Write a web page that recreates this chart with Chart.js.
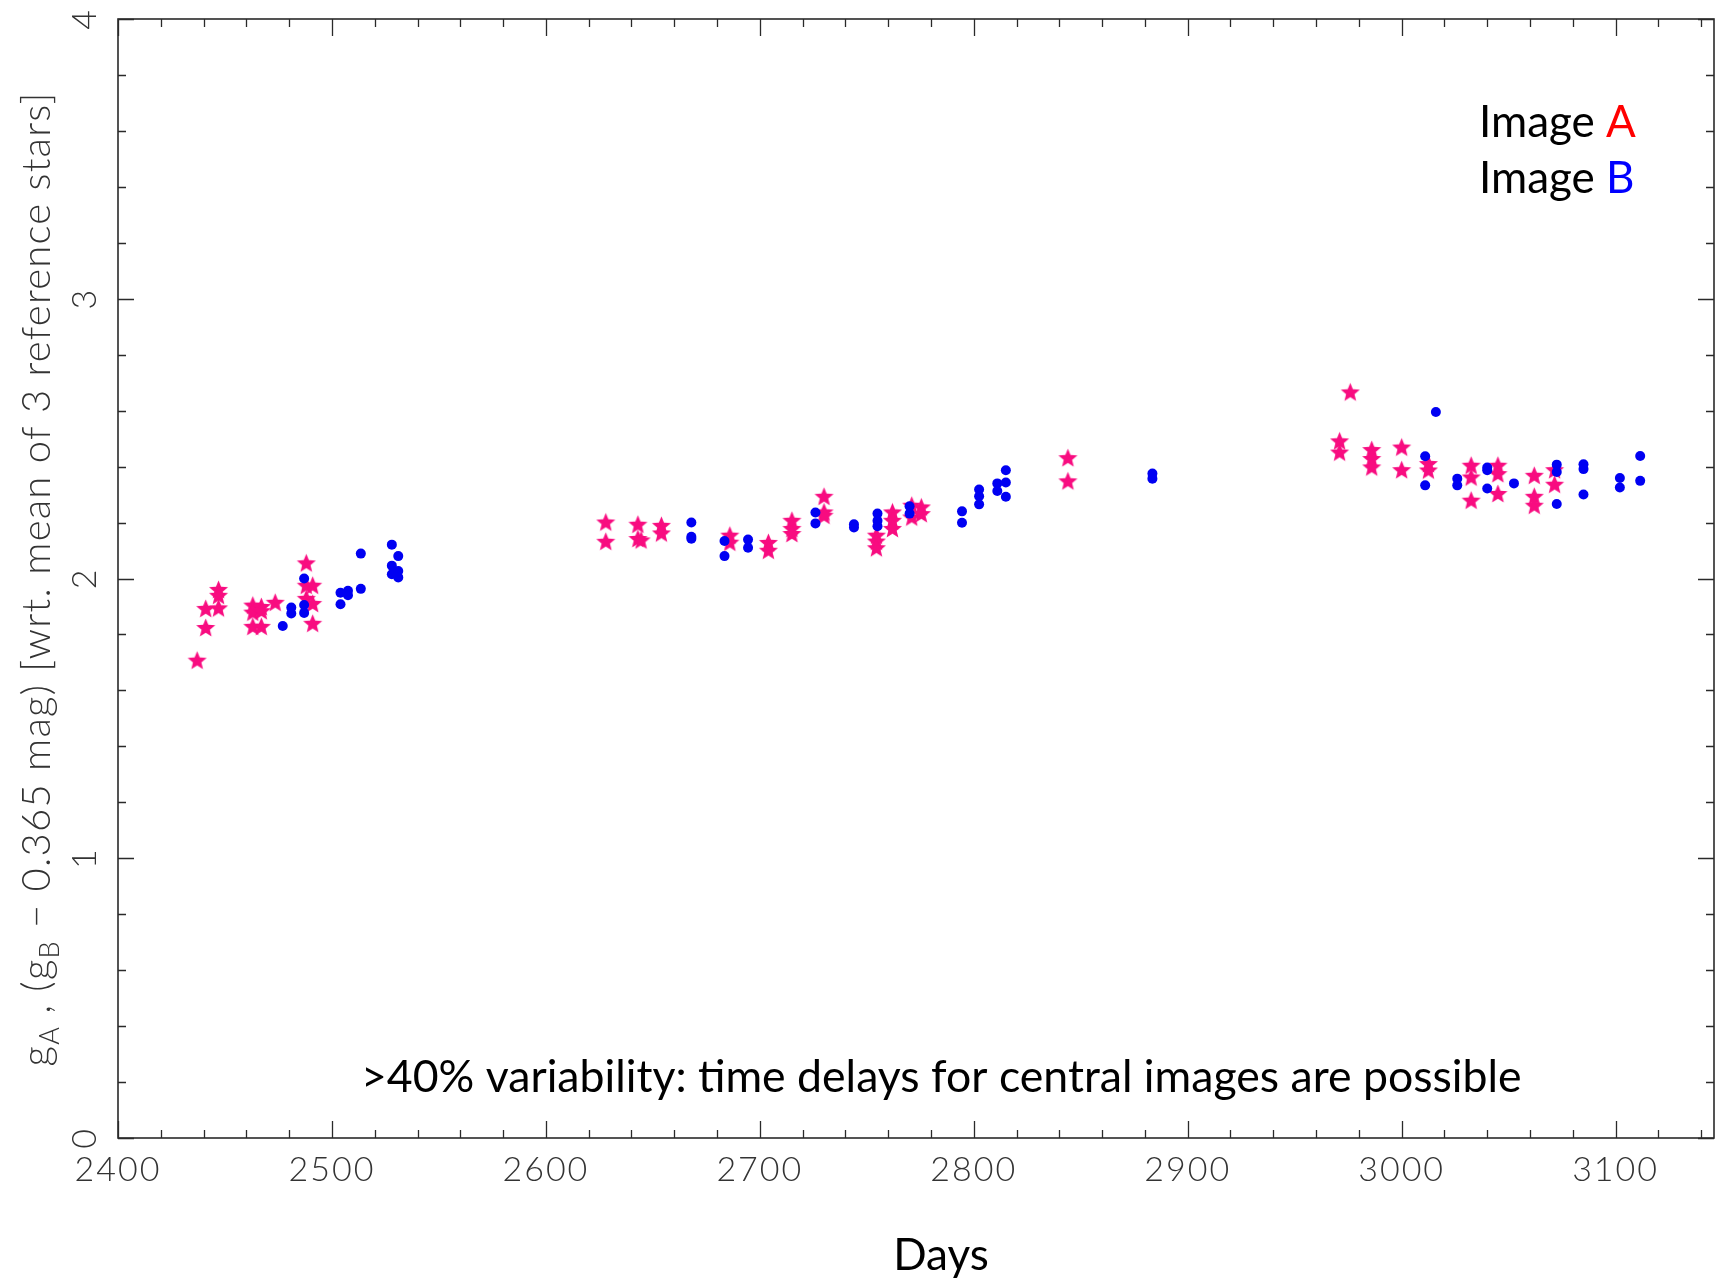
<!doctype html>
<html lang="en">
<head>
<meta charset="utf-8">
<title>Image A / Image B light curves</title>
<script src="https://cdn.jsdelivr.net/npm/chart.js@4.4.0/dist/chart.umd.min.js"></script>
<style>
  html, body { margin: 0; padding: 0; background: #fff; }
  #lc { display: block; }
</style>
</head>
<body>
<canvas id="lc" width="1716" height="1280"></canvas>
<script>
// Image A (pink stars): day, magnitude
let daysA = [2437, 2441, 2441, 2447, 2447, 2447,
  2463, 2463, 2467, 2467, 2473.5, 2463, 2467,
  2488, 2488, 2488, 2491, 2491, 2491,
  2628, 2628, 2643, 2643, 2644.5, 2654, 2654,
  2686, 2686, 2704, 2704, 2715, 2715, 2715,
  2730, 2730, 2730, 2754.5, 2754.5, 2754.5, 2762, 2762, 2762,
  2771, 2771, 2775.5, 2775.5, 2844, 2844,
  2976, 2971, 2971, 2986, 2986, 2986, 3000, 3000,
  3012.5, 3012.5, 3032.5, 3032.5, 3032.5, 3045, 3045, 3045,
  3062, 3062, 3062, 3071.5, 3071.5];
let magA = [1.708, 1.825, 1.893, 1.961, 1.940, 1.895,
  1.905, 1.880, 1.900, 1.885, 1.915, 1.829, 1.829,
  2.056, 1.976, 1.929, 1.976, 1.911, 1.840,
  2.202, 2.133, 2.194, 2.143, 2.138, 2.190, 2.163,
  2.155, 2.130, 2.129, 2.101, 2.208, 2.179, 2.161,
  2.294, 2.238, 2.226, 2.155, 2.134, 2.110, 2.238, 2.208, 2.179,
  2.262, 2.220, 2.256, 2.232, 2.432, 2.349,
  2.667, 2.492, 2.452, 2.461, 2.429, 2.399, 2.470, 2.389,
  2.411, 2.388, 2.405, 2.363, 2.280, 2.405, 2.375, 2.304,
  2.369, 2.294, 2.262, 2.389, 2.337];

// Image B (blue dots): day, magnitude
let daysB = [2477, 2481, 2481, 2487, 2487, 2487,
  2504, 2504, 2507.5, 2507.5, 2513.5, 2513.5,
  2528, 2528, 2528, 2531, 2531, 2531,
  2668, 2668, 2668, 2683.5, 2683.5, 2694.5, 2694.5,
  2726, 2726, 2744, 2744, 2755, 2755, 2755, 2770, 2770,
  2794.5, 2794.5, 2802.5, 2802.5, 2802.5, 2811, 2811, 2815, 2815, 2815,
  2883.5, 2883.5,
  3016, 3011, 3011, 3026, 3026, 3040, 3040, 3040, 3052.5,
  3072.5, 3072.5, 3072.5, 3085, 3085, 3085, 3102, 3102, 3111.5, 3111.5];
let magB = [1.830, 1.896, 1.875, 2.000, 1.905, 1.877,
  1.949, 1.908, 1.956, 1.940, 2.089, 1.963,
  2.121, 2.046, 2.015, 2.080, 2.027, 2.004,
  2.200, 2.149, 2.142, 2.134, 2.080, 2.139, 2.110,
  2.236, 2.197, 2.194, 2.182, 2.232, 2.206, 2.187, 2.258, 2.232,
  2.240, 2.199, 2.318, 2.294, 2.265, 2.340, 2.313, 2.387, 2.343, 2.292,
  2.375, 2.357,
  2.595, 2.437, 2.333, 2.357, 2.333, 2.397, 2.387, 2.322, 2.340,
  2.407, 2.381, 2.266, 2.408, 2.391, 2.300, 2.359, 2.325, 2.438, 2.349];

// axes
let xMajor = [2400, 2500, 2600, 2700, 2800, 2900, 3000, 3100];
let xLabels = ['2400', '2500', '2600', '2700', '2800', '2900', '3000', '3100'];
let yMajor = [0, 1, 2, 3, 4];
let yLabels = ['0', '1', '2', '3', '4'];
let xMinorStep = 20;
let yMinorStep = 0.2;

function pts(xs, ys) { return xs.map((d, i) => ({ x: d, y: ys[i] })); }

// filled five pointed star used as point image
function makeStar(size, color) {
  let c = document.createElement('canvas');
  c.width = c.height = size;
  let g = c.getContext('2d');
  let R = size / 2 - 0.5, r = R * 0.44;
  g.beginPath();
  for (let i = 0; i < 10; i++) {
    let a = -Math.PI / 2 + i * Math.PI / 5;
    let rr = i % 2 ? r : R;
    g.lineTo(size / 2 + rr * Math.cos(a), size / 2 + 0.9 + rr * Math.sin(a));
  }
  g.closePath();
  g.fillStyle = color;
  g.fill();
  return c;
}

const sans = 'Lato, "Open Sans", sans-serif';

const frame = {
  id: 'frame',
  afterDatasetsDraw(chart) {
    const { ctx, chartArea: a, scales: { x, y } } = chart;
    ctx.save();
    ctx.strokeStyle = '#2a2a2a';
    ctx.lineWidth = 1.6;
    ctx.strokeRect(a.left, a.top, a.right - a.left, a.bottom - a.top);

    // inward ticks on all four sides
    ctx.lineWidth = 1.3;
    ctx.beginPath();
    for (let i = 0; xMajor[0] + i * xMinorStep <= x.max; i++) {
      let v = xMajor[0] + i * xMinorStep;
      let px = Math.round(x.getPixelForValue(v)) + 0.5;
      let len = (v % 100 === 0) ? 17 : 8;
      ctx.moveTo(px, a.bottom); ctx.lineTo(px, a.bottom - len);
      ctx.moveTo(px, a.top); ctx.lineTo(px, a.top + len);
    }
    for (let i = 0; i * yMinorStep <= y.max + 1e-9; i++) {
      let py = Math.round(y.getPixelForValue(i * yMinorStep)) + 0.5;
      let len = (i % 5 === 0) ? 16 : 8;
      ctx.moveTo(a.left, py); ctx.lineTo(a.left + len, py);
      ctx.moveTo(a.right, py); ctx.lineTo(a.right - len, py);
    }
    ctx.stroke();

    // tick labels
    ctx.fillStyle = '#333';
    ctx.font = '300 34px ' + sans;
    ctx.letterSpacing = '2px';
    ctx.textAlign = 'center';
    ctx.textBaseline = 'alphabetic';
    xMajor.forEach((v, i) => ctx.fillText(xLabels[i], x.getPixelForValue(v), a.bottom + 43));
    yMajor.forEach((v, i) => {
      ctx.save();
      ctx.translate(a.left - 22, y.getPixelForValue(v));
      ctx.rotate(-Math.PI / 2);
      ctx.fillText(yLabels[i], 0, 0);
      ctx.restore();
    });
    ctx.restore();
  },
  afterDraw(chart) {
    const { ctx } = chart;
    ctx.save();
    ctx.fillStyle = '#333';

    // y axis title with subscripts, rotated
    let parts = [['g', 0], ['A', 1], [' , (', 0], ['g', 0], ['B', 1],
      [' \u2212 0.365 mag) [wrt. mean of 3 reference stars]', 0]];
    let mainFont = '300 40px ' + sans, subFont = '300 27px ' + sans;
    ctx.letterSpacing = '0px';
    let w = 0, n = 0;
    parts.forEach(p => { ctx.font = p[1] ? subFont : mainFont; w += ctx.measureText(p[0]).width; n += p[0].length; });
    let sp = (975 - w) / n;
    ctx.letterSpacing = sp + 'px';
    ctx.translate(50, 579);
    ctx.rotate(-Math.PI / 2);
    ctx.textAlign = 'left';
    let cx = -975 / 2;
    parts.forEach(p => {
      ctx.font = p[1] ? subFont : mainFont;
      ctx.fillText(p[0], cx, p[1] ? 9 : 0);
      cx += ctx.measureText(p[0]).width;
    });
    ctx.restore();

    ctx.save();
    ctx.textAlign = 'left';
    ctx.textBaseline = 'alphabetic';
    ctx.font = '44px ' + sans;
    [['A', '#ff0000', 137], ['B', '#0000ff', 193]].forEach(l => {
      ctx.fillStyle = '#000';
      ctx.fillText('Image ', 1479, l[2]);
      let iw = ctx.measureText('Image ').width;
      ctx.fillStyle = l[1];
      ctx.fillText(l[0], 1479 + iw, l[2]);
    });

    // annotation, fitted to the width it has in the figure
    let note = '>40% variability: time delays for central images are possible';
    ctx.font = '100px ' + sans;
    let size = 100 * 1160 / ctx.measureText(note).width;
    ctx.font = size.toFixed(1) + 'px ' + sans;
    ctx.fillStyle = '#000';
    ctx.fillText(note, 361, 1092);

    ctx.font = '44px ' + sans;
    ctx.textAlign = 'center';
    ctx.fillText('Days', 941, 1270);
    ctx.restore();
  }
};

new Chart(document.getElementById('lc'), {
  type: 'scatter',
  data: {
    datasets: [
      {
        label: 'Image B',
        data: pts(daysB, magB),
        pointStyle: 'circle',
        pointRadius: 5,
        backgroundColor: '#0000f2',
        borderWidth: 0,
        order: 1
      },
      {
        label: 'Image A',
        data: pts(daysA, magA),
        pointStyle: makeStar(21, '#f80c80'),
        pointRadius: 10,
        order: 2
      }
    ]
  },
  options: {
    responsive: false,
    devicePixelRatio: 1,
    animation: false,
    layout: { autoPadding: false, padding: { left: 118, top: 19, right: 2, bottom: 142 } },
    plugins: { legend: { display: false }, tooltip: { enabled: false } },
    scales: {
      x: { type: 'linear', min: 2400, max: 3146, display: false },
      y: { type: 'linear', min: 0, max: 4, display: false }
    }
  },
  plugins: [frame]
});
</script>
</body>
</html>
